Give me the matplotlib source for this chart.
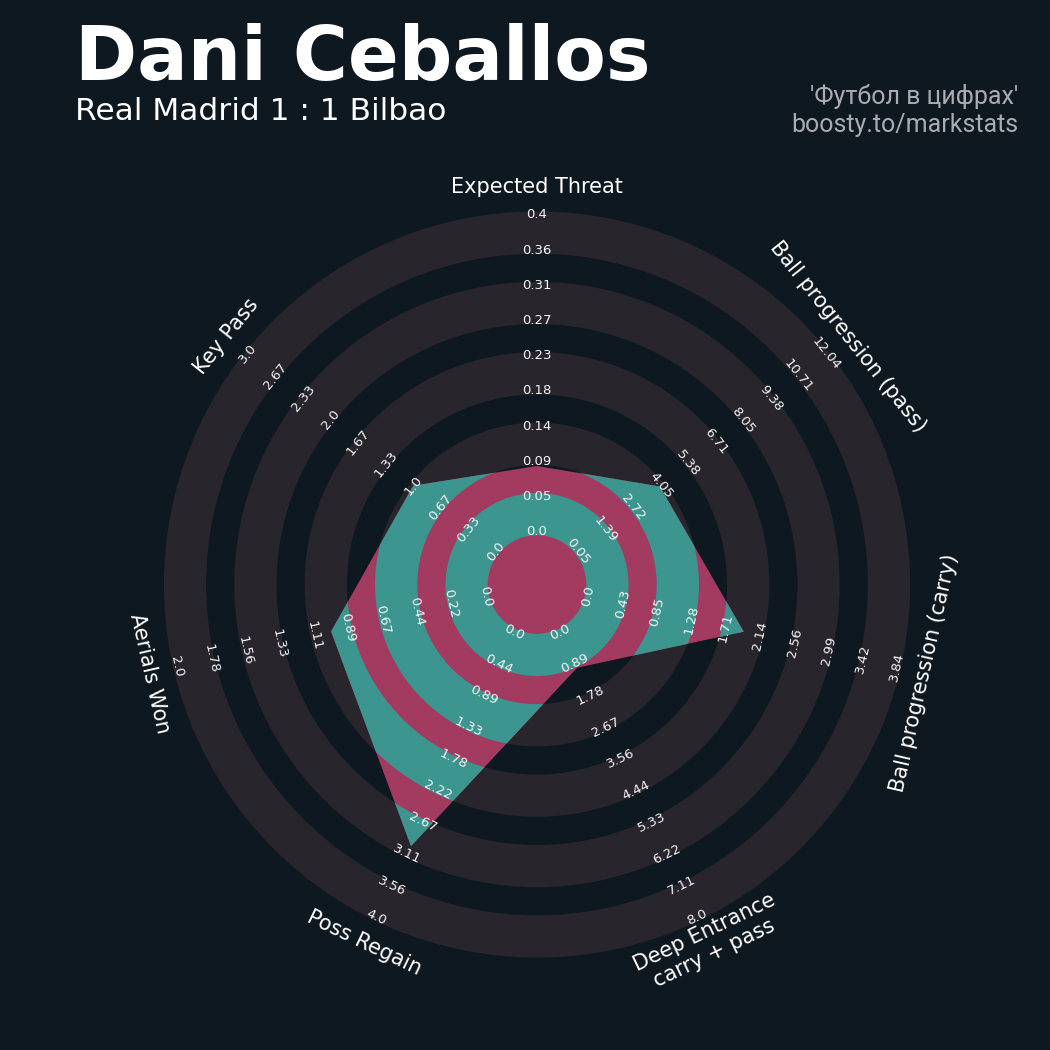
import numpy as np
import matplotlib.pyplot as plt
from matplotlib.patches import Wedge, Polygon

# radar parameters, clockwise from the top
params = ['Expected Threat', 'Ball progression (pass)', 'Ball progression (carry)',
          'Deep Entrance\ncarry + pass', 'Poss Regain', 'Aerials Won', 'Key Pass']
low = [0.0, 0.05, 0.0, 0.0, 0.0, 0.0, 0.0]
high = [0.4, 12.04, 3.84, 8.0, 4.0, 2.0, 3.0]
values = [0.083, 4.0, 1.93, 1.0, 3.0, 1.0, 1.0]
range_labels = [
    ['0.0', '0.05', '0.09', '0.14', '0.18', '0.23', '0.27', '0.31', '0.36', '0.4'],
    ['0.05', '1.39', '2.72', '4.05', '5.38', '6.71', '8.05', '9.38', '10.71', '12.04'],
    ['0.0', '0.43', '0.85', '1.28', '1.71', '2.14', '2.56', '2.99', '3.42', '3.84'],
    ['0.0', '0.89', '1.78', '2.67', '3.56', '4.44', '5.33', '6.22', '7.11', '8.0'],
    ['0.0', '0.44', '0.89', '1.33', '1.78', '2.22', '2.67', '3.11', '3.56', '4.0'],
    ['0.0', '0.22', '0.44', '0.67', '0.89', '1.11', '1.33', '1.56', '1.78', '2.0'],
    ['0.0', '0.33', '0.67', '1.0', '1.33', '1.67', '2.0', '2.33', '2.67', '3.0'],
]

title = 'Dani Ceballos'
subtitle = 'Real Madrid 1 : 1 Bilbao'
credit1 = "'Футбол в цифрах'"
credit2 = 'boosty.to/markstats'

BG = '#0e1820'
RING = '#28252c'
PINK = '#a33a60'
TEAL = '#3d958f'

# geometry (radar units)
inner = 1.5
n_rings = 9
pad = 0.1
label_r = inner + np.arange(n_rings + 1)
param_r = 11.3

fig = plt.figure(figsize=(10.5, 10.5), dpi=100, facecolor=BG)
ax = fig.add_axes([0, 0, 1, 1])
ax.set_facecolor(BG)
unit = 35.2
cx, cy = 537, 465.5
ax.set_xlim(-cx / unit, (1050 - cx) / unit)
ax.set_ylim(-cy / unit, (1050 - cy) / unit)
ax.set_aspect('equal')
ax.axis('off')

n = len(params)
angles = 90 - np.arange(n) * 360 / n


def tangent_rot(a):
    rot = a - 90
    while rot <= -90:
        rot += 180
    while rot > 90:
        rot -= 180
    return rot


# outer rings
ring_bounds = [(label_r[2 * j] - pad, label_r[2 * j + 1] + pad) for j in range(5)]
for r_in, r_out in ring_bounds:
    ax.add_patch(Wedge((0, 0), r_out, 0, 360, width=r_out - r_in,
                       facecolor=RING, edgecolor='none', zorder=1))

# radar polygon
frac = (np.array(values) - np.array(low)) / (np.array(high) - np.array(low))
rad = inner + frac * n_rings
xs = rad * np.cos(np.radians(angles))
ys = rad * np.sin(np.radians(angles))
poly = Polygon(np.column_stack([xs, ys]), closed=True, facecolor=PINK,
               edgecolor='none', zorder=2)
ax.add_patch(poly)
for r_in, r_out in ring_bounds:
    w = Wedge((0, 0), r_out, 0, 360, width=r_out - r_in,
              facecolor=TEAL, edgecolor='none', zorder=3)
    ax.add_patch(w)
    w.set_clip_path(poly)

# range labels
for i, a in enumerate(angles):
    rot = tangent_rot(a)
    for r, lab in zip(label_r, range_labels[i]):
        ax.text(r * np.cos(np.radians(a)), r * np.sin(np.radians(a)), lab,
                fontsize=9.5, color='#f4f4f4', ha='center', va='center',
                rotation=rot, rotation_mode='anchor', zorder=5)
    ax.text(param_r * np.cos(np.radians(a)), param_r * np.sin(np.radians(a)),
            params[i], fontsize=15, color='white', ha='center', va='center',
            rotation=rot, rotation_mode='anchor', multialignment='center', zorder=5)

fig.text(75 / 1050, 1 - 80 / 1050, title, fontsize=54, fontweight='bold',
         color='white', ha='left', va='baseline')
fig.text(75 / 1050, 1 - 120 / 1050, subtitle, fontsize=22.5,
         color='white', ha='left', va='baseline')
fig.text(1018 / 1050, 1 - 104 / 1050, credit1, fontsize=18, family='Roboto',
         color='#a9acb0', ha='right', va='baseline')
fig.text(1018 / 1050, 1 - 132 / 1050, credit2, fontsize=18, family='Roboto',
         color='#a9acb0', ha='right', va='baseline')

fig.savefig('out.png', dpi=100, facecolor=BG)
